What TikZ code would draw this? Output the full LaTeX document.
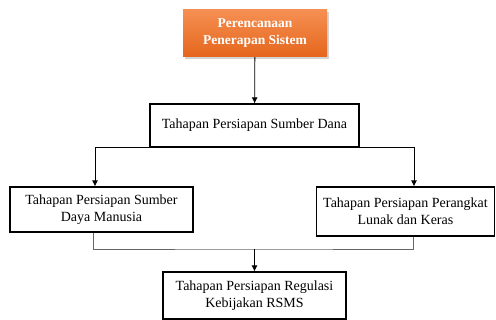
\documentclass[tikz,border=0pt]{standalone}
\usepackage{fontspec}
\setmainfont{Liberation Serif}
\usetikzlibrary{arrows.meta,shadows,positioning}
\definecolor{orangetop}{HTML}{F58F52}
\definecolor{orangebot}{HTML}{E5661C}
\tikzset{
  tahap/.style = {draw, line width=1.2pt, align=center, inner sep=2pt,
    font=\fontsize{14}{17}\selectfont},
  judul/.style = {top color=orangetop, bottom color=orangebot, text=white,
    align=center, font=\fontsize{13.5}{17}\selectfont\bfseries,
    drop shadow={shadow xshift=2pt, shadow yshift=-2pt, opacity=.35},
    minimum width=144pt, minimum height=47pt},
  panah/.style = {-{Latex[length=6pt,width=6pt]}, line width=.8pt}
}
\begin{document}
\begin{tikzpicture}[x=1pt,y=-1pt]
    \useasboundingbox (0,0) rectangle (496,320);
    % perencanaan
    \node[judul] (rencana) at (255,33.5) {Perencanaan\\Penerapan Sistem};
    % tahapan
    \node[tahap, minimum width=209pt, minimum height=43pt] (dana) at (254.5,125.5)
      {Tahapan Persiapan Sumber Dana};
    \node[tahap, minimum width=183pt, minimum height=45pt] (sdm) at (101.5,209.5)
      {Tahapan Persiapan Sumber\\Daya Manusia};
    \node[tahap, minimum width=178pt, minimum height=49pt] (perangkat) at (405.5,211.5)
      {Tahapan Persiapan Perangkat\\Lunak dan Keras};
    \node[tahap, minimum width=183pt, minimum height=47pt] (regulasi) at (254.5,295.5)
      {Tahapan Persiapan Regulasi\\Kebijakan RSMS};
    \coordinate (gabung) at (254.5,249);
    % garis
    \draw[panah] (rencana) -- (dana);
    \draw[panah] (dana.south) -| ([xshift=-6.5pt]sdm.north);
    \draw[panah] (dana.south) -| ([xshift=8.5pt]perangkat.north);
    \draw[gray!80!black, line width=.8pt] ([xshift=-8.5pt]sdm.south) |- (gabung)
      -| ([xshift=7.5pt]perangkat.south);
    \draw[panah] (gabung) -- (regulasi);
\end{tikzpicture}
\end{document}
